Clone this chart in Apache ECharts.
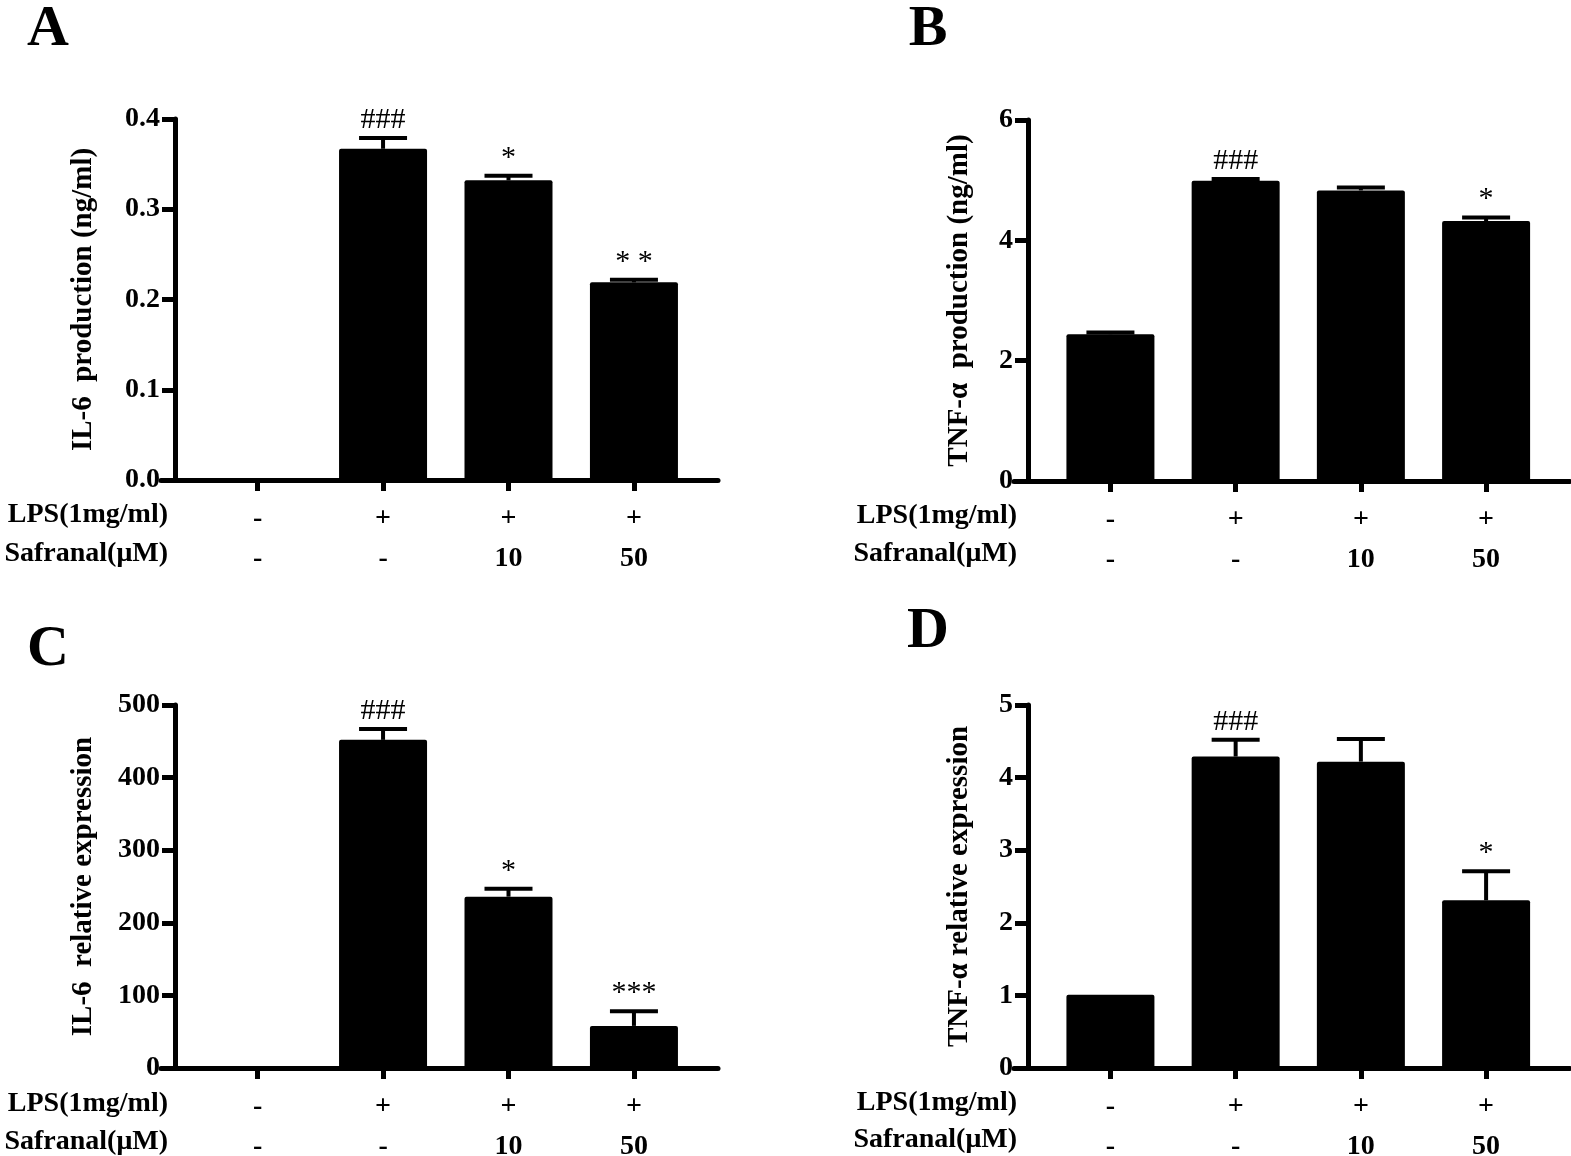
<!DOCTYPE html>
<html>
<head>
<meta charset="utf-8">
<script src="https://cdn.jsdelivr.net/npm/echarts@6/dist/echarts.min.js"></script>
<style>
html, body { margin: 0; padding: 0; background: #fff; }
#main { width: 1571px; height: 1156px; }
</style>
</head>
<body>
<div id="main"></div>
<script>
// treatment rows under each x axis
var lpsRow = ['-', '+', '+', '+'];
var safranalRow = ['-', '-', '10', '50'];
var groupPos = [0, 1, 2, 3];

// A: IL-6 production (ng/ml)
var il6Prod = [0, 0.367, 0.332, 0.219];
var il6ProdErr = [0, 0.012, 0.005, 0.003];
var il6ProdSig = ['', '###', '*', '* *'];

// B: TNF-a production (ng/ml)
var tnfProd = [2.44, 4.99, 4.83, 4.32];
var tnfProdErr = [0.03, 0.03, 0.05, 0.06];
var tnfProdSig = ['', '###', '', '*'];

// C: IL-6 relative expression
var il6Expr = [1, 452, 236, 58];
var il6ExprErr = [0, 15, 11, 20];
var il6ExprSig = ['', '###', '*', '***'];

// D: TNF-a relative expression
var tnfExpr = [1.01, 4.29, 4.22, 2.31];
var tnfExprErr = [0, 0.23, 0.31, 0.40];
var tnfExprSig = ['', '###', '', '*'];

var FONT = '"Liberation Serif", "Times New Roman", serif';

var panels = [
    { letter: 'A', vals: il6Prod, err: il6ProdErr, sig: il6ProdSig, title: 'IL-6  production (ng/ml)',
      max: 0.4, step: 0.1, digits: 1, nameGap: 77,
      grid: { left: 161, top: 119, width: 557, height: 361 }, letterPos: [48, 30], rowY: [515, 554], rowX: 168 },
    { letter: 'B', vals: tnfProd, err: tnfProdErr, sig: tnfProdSig, title: 'TNF-\u03b1  production (ng/ml)',
      max: 6, step: 2, digits: 0, nameGap: 54,
      grid: { left: 1014, top: 120, width: 556, height: 361 }, letterPos: [928, 30], rowY: [516, 554], rowX: 1017 },
    { letter: 'C', vals: il6Expr, err: il6ExprErr, sig: il6ExprSig, title: 'IL-6  relative expression',
      max: 500, step: 100, digits: 0, nameGap: 77,
      grid: { left: 161, top: 705, width: 557, height: 363 }, letterPos: [48, 650], rowY: [1104, 1142], rowX: 168 },
    { letter: 'D', vals: tnfExpr, err: tnfExprErr, sig: tnfExprSig, title: 'TNF-\u03b1 relative expression',
      max: 5, step: 1, digits: 0, nameGap: 54,
      grid: { left: 1014, top: 705, width: 556, height: 363 }, letterPos: [928, 632], rowY: [1103, 1140], rowX: 1017 }
];

var chart = echarts.init(document.getElementById('main'), null, { renderer: 'canvas' });

var grids = [], xAxes = [], yAxes = [], series = [], graphics = [];

panels.forEach(function (p, gi) {
    grids.push(Object.assign({ containLabel: false, outerBoundsMode: 'none' }, p.grid));

    xAxes.push({
        type: 'value',
        gridIndex: gi,
        min: -0.77,
        max: 3.67,
        axisLine: { show: true, onZero: false, lineStyle: { color: '#000', width: 5 } },
        axisTick: { show: true, customValues: groupPos, length: 11, lineStyle: { color: '#000', width: 5 } },
        axisLabel: {
            customValues: groupPos,
            margin: 19,
            color: '#000',
            fontFamily: FONT,
            fontWeight: 'bold',
            fontSize: 28,
            lineHeight: 40,
            formatter: function (v) {
                var i = Math.round(v);
                return lpsRow[i] + '\n' + safranalRow[i];
            }
        },
        splitLine: { show: false }
    });

    yAxes.push({
        type: 'value',
        gridIndex: gi,
        min: 0,
        max: p.max,
        interval: p.step,
        offset: -14,
        name: p.title,
        nameLocation: 'middle',
        nameRotate: 90,
        nameGap: p.nameGap,
        nameTextStyle: { color: '#000', fontFamily: FONT, fontWeight: 'bold', fontSize: 29 },
        axisLine: { show: true, onZero: false, lineStyle: { color: '#000', width: 5 } },
        axisTick: { show: true, length: 13, lineStyle: { color: '#000', width: 5 } },
        axisLabel: {
            margin: 15,
            color: '#000',
            fontFamily: FONT,
            fontWeight: 'bold',
            fontSize: 28,
            formatter: function (v) { return v.toFixed(p.digits); }
        },
        splitLine: { show: false }
    });

    series.push({
        type: 'bar',
        xAxisIndex: gi,
        yAxisIndex: gi,
        barWidth: 88,
        itemStyle: { color: '#000', borderRadius: 2 },
        data: p.vals.map(function (v, i) { return [groupPos[i], v]; }),
        z: 2
    });

    // upper error bars + significance marks
    series.push({
        type: 'custom',
        xAxisIndex: gi,
        yAxisIndex: gi,
        z: 3,
        data: p.vals.map(function (v, i) { return [groupPos[i], v, v + p.err[i]]; }),
        renderItem: function (params, api) {
            var x = api.value(0);
            var base = api.coord([x, api.value(1)]);
            var top = api.coord([x, api.value(2)]);
            var half = 24;
            var children = [];
            if (base[1] - top[1] > 0.5) {
                children.push({ type: 'line', shape: { x1: base[0], y1: base[1], x2: top[0], y2: top[1] },
                    style: { stroke: '#000', lineWidth: 4 } });
                children.push({ type: 'line', shape: { x1: top[0] - half, y1: top[1], x2: top[0] + half, y2: top[1] },
                    style: { stroke: '#000', lineWidth: 4 } });
            }
            var s = p.sig[params.dataIndex];
            if (s) {
                children.push({ type: 'text', x: top[0], y: top[1] - 3,
                    style: { text: s, fill: '#000', fontFamily: FONT, fontSize: 30,
                        align: 'center', verticalAlign: 'bottom' } });
            }
            return { type: 'group', children: children };
        }
    });

    // panel letter
    graphics.push({ type: 'text', x: p.letterPos[0], y: p.letterPos[1],
        style: { text: p.letter, fill: '#000', fontFamily: FONT, fontWeight: 'bold', fontSize: 58,
            align: 'center', verticalAlign: 'middle' } });
    // row headers
    graphics.push({ type: 'text', x: p.rowX, y: p.rowY[0],
        style: { text: 'LPS(1mg/ml)', fill: '#000', fontFamily: FONT, fontWeight: 'bold', fontSize: 28,
            align: 'right', verticalAlign: 'middle' } });
    graphics.push({ type: 'text', x: p.rowX, y: p.rowY[1],
        style: { text: 'Safranal(\u03bcM)', fill: '#000', fontFamily: FONT, fontWeight: 'bold', fontSize: 28,
            align: 'right', verticalAlign: 'middle' } });
});

chart.setOption({
    backgroundColor: '#fff',
    animation: false,
    grid: grids,
    xAxis: xAxes,
    yAxis: yAxes,
    series: series,
    graphic: graphics
});
</script>
</body>
</html>
